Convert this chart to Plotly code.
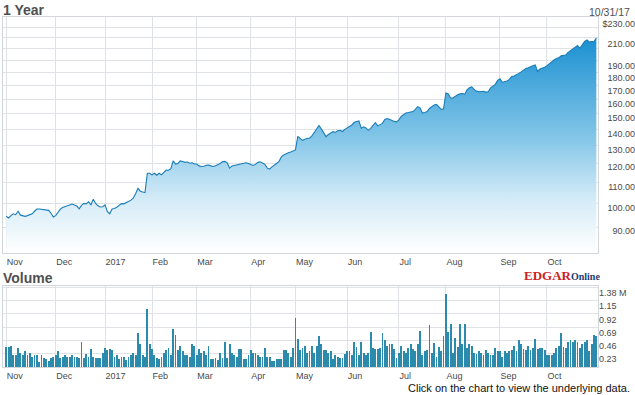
import numpy as np
import pandas as pd
import plotly.graph_objects as go

# ---------------- data ----------------
holidays = ["2016-11-24", "2016-12-26", "2017-01-02", "2017-01-16", "2017-02-20",
            "2017-04-14", "2017-05-29", "2017-07-04", "2017-09-04"]

month_labels = ["Nov", "Dec", "2017", "Feb", "Mar", "Apr", "May", "Jun", "Jul", "Aug", "Sep", "Oct"]

close = [
    # Nov
    99.5, 98.8, 99.8, 100.6, 100.2, 101.7, 100.0, 99.6, 99.5, 99.8, 100.1, 100.6, 101.7, 102.7,
    102.7, 102.6, 102.4, 102.4, 102.1, 100.9, 99.2,
    # Dec
    99.8, 101.5, 102.6, 103.4, 103.9, 104.1, 104.5, 104.9, 104.5, 104.0, 102.8, 104.3, 105.2,
    105.0, 105.9, 104.5, 107.1, 105.2, 104.1, 103.6, 103.7,
    # Jan
    104.5, 101.5, 100.6, 102.7, 102.9, 103.5, 104.3, 105.1, 105.0, 105.4, 106.1, 106.7, 107.6,
    109.7, 112.3, 110.9, 110.7, 110.2, 119.8, 119.8,
    # Feb
    119.0, 119.8, 118.8, 119.8, 119.0, 120.3, 121.5, 121.4, 122.2, 126.4, 124.7, 125.0, 126.4,
    126.1, 125.6, 125.8, 125.1, 125.4, 124.7,
    # Mar
    124.7, 123.7, 123.4, 123.5, 124.0, 124.2, 123.7, 123.4, 123.8, 124.2, 125.0, 126.0, 126.1,
    125.3, 122.5, 123.7, 124.0, 124.1, 124.2, 124.7, 125.2, 125.4, 125.0,
    # Apr
    124.3, 123.9, 124.5, 125.6, 125.9, 125.4, 124.5, 122.5, 122.0, 123.2, 124.0, 125.0, 126.1,
    128.6, 129.6, 130.4, 130.9, 131.4, 132.0,
    # May
    132.5, 140.5, 139.0, 138.1, 138.7, 139.4, 139.4, 140.8, 142.9, 145.1, 147.3, 145.1, 142.6,
    140.4, 141.6, 142.6, 143.4, 142.9, 144.0, 144.2, 143.5, 144.8,
    # Jun
    145.7, 146.6, 147.6, 149.3, 149.9, 150.2, 145.5, 146.4, 145.7, 144.2, 145.4, 147.6, 149.1,
    147.0, 147.6, 148.6, 151.2, 151.8, 151.3, 150.5, 149.9, 149.6,
    # Jul
    150.9, 153.1, 154.4, 155.4, 155.7, 155.9, 156.4, 157.8, 159.7, 158.9, 155.4, 155.7, 156.4,
    158.5, 159.5, 160.9, 161.3, 159.5, 157.8, 158.2,
    # Aug
    169.5, 168.8, 165.8, 165.8, 167.1, 168.2, 168.8, 169.1, 168.6, 171.7, 173.3, 173.9, 172.1,
    170.8, 170.4, 170.8, 170.7, 170.1, 170.4, 173.2, 174.6, 175.9, 178.9,
    # Sep
    180.1, 177.5, 178.0, 178.5, 179.7, 181.9, 182.4, 183.2, 184.4, 185.6, 187.2, 188.4, 189.0,
    189.5, 190.5, 191.3, 186.0, 188.0, 188.6, 189.4,
    # Oct
    190.7, 192.5, 194.2, 195.4, 196.6, 197.2, 198.9, 199.3, 199.7, 201.9, 203.2, 204.5, 206.3,
    207.9, 205.4, 209.0, 211.7, 213.0, 211.2, 211.5, 211.5, 214.8,
]

volume = [  # millions of shares
    # Nov
    0.34, 0.34, 0.37, 0.21, 0.21, 0.33, 0.24, 0.20, 0.27, 0.21, 0.24, 0.18, 0.20, 0.20, 0.08,
    0.20, 0.16, 0.13, 0.10, 0.16, 0.17,
    # Dec
    0.21, 0.27, 0.16, 0.18, 0.20, 0.18, 0.18, 0.21, 0.17, 0.17, 0.16, 0.43, 0.16, 0.23, 0.17,
    0.32, 0.17, 0.16, 0.16, 0.16, 0.24,
    # Jan
    0.33, 0.30, 0.31, 0.30, 0.17, 0.21, 0.14, 0.17, 0.17, 0.12, 0.17, 0.20, 0.25, 0.20, 0.58,
    0.40, 0.21, 0.17, 1.00, 0.39,
    # Feb
    0.31, 0.21, 0.16, 0.13, 0.17, 0.25, 0.30, 0.33, 0.21, 0.65, 0.56, 0.30, 0.36, 0.27, 0.21,
    0.20, 0.17, 0.39, 0.37,
    # Mar
    0.20, 0.31, 0.24, 0.27, 0.21, 0.37, 0.13, 0.14, 0.16, 0.12, 0.24, 0.16, 0.43, 0.16, 0.40,
    0.24, 0.20, 0.17, 0.31, 0.31, 0.13, 0.13, 0.20,
    # Apr
    0.29, 0.24, 0.25, 0.21, 0.17, 0.17, 0.33, 0.17, 0.17, 0.10, 0.10, 0.14, 0.14, 0.13, 0.29,
    0.30, 0.24, 0.17, 0.33,
    # May
    0.85, 0.48, 0.30, 0.33, 0.37, 0.24, 0.27, 0.36, 0.24, 0.36, 0.53, 0.40, 0.30, 0.30, 0.24,
    0.27, 0.14, 0.20, 0.17, 0.16, 0.16, 0.22,
    # Jun
    0.27, 0.28, 0.20, 0.44, 0.35, 0.21, 0.43, 0.24, 0.21, 0.24, 0.60, 0.33, 0.31, 0.31, 0.33,
    0.58, 0.47, 0.36, 0.40, 0.39, 0.31, 0.16,
    # Jul
    0.24, 0.36, 0.27, 0.25, 0.33, 0.40, 0.31, 0.27, 0.39, 0.62, 0.21, 0.27, 0.29, 0.73, 0.24,
    0.42, 0.17, 0.35, 0.27, 0.53,
    # Aug
    1.27, 0.60, 0.75, 0.24, 0.50, 0.35, 0.75, 0.39, 0.75, 0.33, 0.40, 0.36, 0.24, 0.23, 0.27,
    0.25, 0.20, 0.29, 0.25, 0.20, 0.21, 0.33, 0.27,
    # Sep
    0.27, 0.17, 0.27, 0.25, 0.27, 0.30, 0.37, 0.27, 0.46, 0.40, 0.31, 0.29, 0.36, 0.30, 0.33,
    0.48, 0.31, 0.33, 0.33, 0.29,
    # Oct
    0.21, 0.21, 0.21, 0.25, 0.33, 0.36, 0.59, 0.35, 0.33, 0.44, 0.46, 0.44, 0.46, 0.44, 0.33,
    0.39, 0.43, 0.47, 0.27, 0.39, 0.56, 0.54,
]

price_ticks = [90, 100, 110, 120, 130, 140, 150, 160, 170, 180, 190, 210, 230]
price_grid = [95, 105, 115, 125, 135, 145, 155, 165, 175, 185, 195, 205, 215, 225]
vol_ticks = [0.23, 0.46, 0.69, 0.92, 1.15, 1.38]

# ---------------- trading-day axis ----------------
days = pd.bdate_range("2016-11-01", "2017-10-31")
days = days[~days.isin(pd.to_datetime(holidays))]
assert len(days) == len(close) == len(volume), (len(days), len(close), len(volume))
idx = np.arange(len(days))
month_start = [int(i) for i in idx if i == 0 or days[i].month != days[i - 1].month]

price_text = ["$%.2f" % v if v == max(price_ticks) else "%.2f" % v for v in price_ticks]
vol_text = ["%.2f M" % v if v == max(vol_ticks) else "%.2f" % v for v in vol_ticks]

GRID = "#dfe3e8"
FRAME = "#d3d7dc"
TICKFONT = dict(family="Liberation Sans, Arial, sans-serif", size=9, color="#4a4a4a")

fig = go.Figure()

fig.add_trace(go.Scatter(
    x=idx, y=close, mode="lines", xaxis="x", yaxis="y",
    line=dict(color="#1a7db8", width=1.1),
    fill="tozeroy",
    fillgradient=dict(type="vertical", start=85, stop=215,
                      colorscale=[[0, "#ffffff"], [0.25, "#d4ebf7"],
                                  [0.55, "#80c4e7"], [1, "#1b90d1"]]),
    hoverinfo="skip", showlegend=False))
fig.add_trace(go.Scatter(x=[], y=[], xaxis="x", yaxis="y2", showlegend=False))

fig.add_trace(go.Bar(
    x=idx, y=volume, xaxis="x2", yaxis="y3", width=0.36,
    marker=dict(color="#2c8aad", line=dict(width=0)),
    hoverinfo="skip", showlegend=False))
fig.add_trace(go.Scatter(x=[], y=[], xaxis="x2", yaxis="y4", showlegend=False))

xdom = [0, (598 - 3) / 632]
xcommon = dict(domain=xdom, range=[-1.4, 251.7], tickmode="array", tickvals=month_start,
               ticktext=month_labels, showgrid=True, gridcolor=GRID, gridwidth=1,
               ticks="", ticklabelposition="outside right", tickfont=TICKFONT,
               showline=True, linecolor=FRAME, linewidth=1, mirror=True, zeroline=False)

fig.update_layout(
    width=635, height=395,
    margin=dict(l=3, r=0, t=17, b=28),
    paper_bgcolor="white", plot_bgcolor="white",
    bargap=0,
    xaxis=dict(anchor="y", **xcommon),
    xaxis2=dict(anchor="y3", matches="x", **xcommon),
    yaxis=dict(domain=[(367 - 253) / 350, 1], type="log", range=[1.92904, 2.37149],
               tickmode="array", tickvals=price_grid, showticklabels=False, ticks="",
               showgrid=True, gridcolor=GRID, showline=True, linecolor=FRAME, mirror=True,
               zeroline=False),
    yaxis2=dict(overlaying="y", anchor="free", position=1.0, side="left", type="log",
                range=[1.91023, 2.37553], tickmode="array", tickvals=price_ticks,
                ticktext=price_text, tickfont=TICKFONT, showgrid=False, ticks="",
                showline=False, zeroline=False),
    yaxis3=dict(domain=[0, (367 - 286) / 350], range=[0, 1.4014], tickmode="array",
                tickvals=vol_ticks, showticklabels=False, ticks="", showgrid=True,
                gridcolor=GRID, showline=True, linecolor=FRAME, mirror=True, zeroline=False),
    yaxis4=dict(overlaying="y3", anchor="x2", side="right", range=[0.097, 1.496],
                tickmode="array", tickvals=vol_ticks, ticktext=vol_text, tickfont=TICKFONT,
                showgrid=False, ticks="", showline=False, zeroline=False),
    annotations=[
        dict(text="<b>1 Year</b>", xref="paper", yref="paper", x=-0.003, y=1 + 7.5 / 350,
             xanchor="left", yanchor="middle", showarrow=False,
             font=dict(family="Liberation Sans, Arial, sans-serif", size=14, color="#505050")),
        dict(text="10/31/17", xref="paper", yref="paper", x=(632 - 3) / 632, y=1 + 5 / 350,
             xanchor="right", yanchor="middle", showarrow=False,
             font=dict(family="Liberation Sans, Arial, sans-serif", size=10.5, color="#505050")),
        dict(text="<b>Volume</b>", xref="paper", yref="paper", x=-0.003, y=(367 - 277.5) / 350,
             xanchor="left", yanchor="middle", showarrow=False,
             font=dict(family="Liberation Sans, Arial, sans-serif", size=14, color="#505050")),
        dict(text='<b><span style="color:#cc1f1f;font-size:13px">EDGAR</span>'
                  '<span style="color:#1d3d73;font-size:10px">Online</span></b>',
             xref="paper", yref="paper", x=(521.7 - 3) / 632, y=(367 - 275) / 350,
             xanchor="left", yanchor="middle", showarrow=False,
             font=dict(family="Liberation Serif, Times New Roman, serif", size=13)),
        dict(text="Click on the chart to view the underlying data.", xref="paper", yref="paper",
             x=(632 - 3) / 632, y=(367 - 388.3) / 350, xanchor="right", yanchor="middle",
             showarrow=False,
             font=dict(family="Liberation Sans, Arial, sans-serif", size=11, color="#111111")),
    ],
)

fig.write_html(
    "out.html",
    config={"displayModeBar": False},
    post_script="document.body.style.margin='0px';document.body.style.overflow='hidden';",
)
